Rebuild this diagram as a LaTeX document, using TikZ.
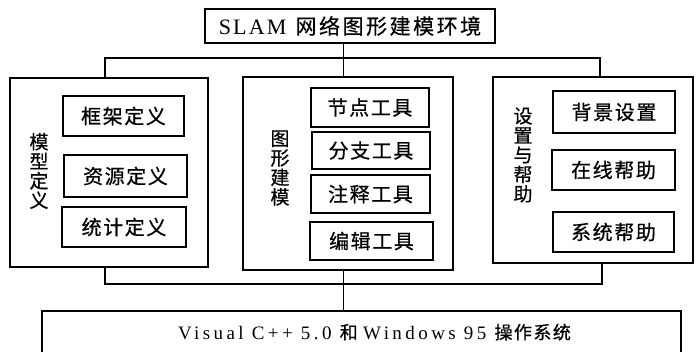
\documentclass[tikz,border=0pt]{standalone}
\usepackage{fontspec}
\setmainfont{Liberation Serif}
\newfontfamily\cjk[LetterSpace=8,FakeBold=0.6]{Noto Sans CJK SC}
\newfontfamily\cjktop[LetterSpace=12,FakeBold=0.4]{Noto Sans CJK SC}
\newfontfamily\latsp[LetterSpace=10]{Liberation Serif}
\newfontfamily\latbot[LetterSpace=18]{Liberation Serif}
\begin{document}
\begin{tikzpicture}[x=1pt,y=-1pt,
  outerbox/.style={draw,line width=2.2pt,inner sep=0pt,outer sep=0pt},
  innerbox/.style={draw,line width=2pt,inner sep=0pt,outer sep=0pt,font=\fontsize{20}{20}\selectfont\cjk},
  vlabel/.style={align=center,inner sep=0pt,font=\fontsize{19}{19.5}\selectfont\cjk},
  conn/.style={line width=1pt},
  hconn/.style={line width=1.6pt}]
\useasboundingbox (0,0) rectangle (700,351);
\clip (0,0) rectangle (700,351);
% top
\node[outerbox,minimum width=290pt,minimum height=34pt,line width=2pt] (top) at (350,26)
  {\fontsize{22}{22}\selectfont\latsp SLAM\hspace{9pt}\fontsize{21}{21}\selectfont\cjktop 网络图形建模环境};
% group boxes
\node[outerbox,minimum width=198pt,minimum height=189pt] (L) at (109,172.5) {};
\node[outerbox,minimum width=210pt,minimum height=193pt] (M) at (348,173.5) {};
\node[outerbox,minimum width=200pt,minimum height=186pt] (R) at (593,170) {};
% left inner
\node[innerbox,minimum width=121pt,minimum height=40pt] (kj) at (123.5,116) {框架定义};
\node[innerbox,minimum width=123pt,minimum height=42pt] (zy) at (125.5,176) {资源定义};
\node[innerbox,minimum width=124pt,minimum height=40pt] (tj) at (124,227) {统计定义};
\node[vlabel] (lL) at (39,171) {模\\型\\定\\义};
% middle inner
\node[innerbox,minimum width=118pt,minimum height=39pt] (jd) at (370,107.5) {节点工具};
\node[innerbox,minimum width=118pt,minimum height=37pt] (fz) at (371,150.5) {分支工具};
\node[innerbox,minimum width=119pt,minimum height=38pt] (zs) at (370.5,194) {注释工具};
\node[innerbox,minimum width=123pt,minimum height=38pt] (bj) at (371.5,241) {编辑工具};
\node[vlabel] (lM) at (280,168) {图\\形\\建\\模};
% right inner
\node[innerbox,minimum width=122pt,minimum height=42pt] (bg) at (614,112) {背景设置};
\node[innerbox,minimum width=123pt,minimum height=40pt] (zx) at (613.5,170) {在线帮助};
\node[innerbox,minimum width=121pt,minimum height=40pt] (xt) at (613.5,232) {系统帮助};
\node[vlabel] (lR) at (523,155) {设\\置\\与\\帮\\助};
% bottom box
\node[outerbox,anchor=north,minimum width=639pt,text height=28pt,text depth=25pt,inner sep=0pt] (os) at (361.5,311)
  {\hspace*{26pt}\fontsize{19}{19}\selectfont\latbot Visual C++ 5.0 \fontsize{18}{18}\selectfont\cjk 和 \fontsize{19}{19}\selectfont\latbot Windows 95 \fontsize{18}{18}\selectfont\cjk 操作系统};
% connectors
\coordinate (jt) at (343,58);
\coordinate (jb) at (343,284);
\draw[conn] (top.south -| jt) -- (jt);
\draw[hconn] ([xshift=-4pt]L.north) |- (jt) -| ([xshift=7pt]R.north);
\draw[conn] (jt) -- (M.north -| jt);
\draw[hconn] ([xshift=-4pt]L.south) |- (jb) -| ([xshift=9pt]R.south);
\draw[conn] (M.south -| jb) -- (jb);
\draw[conn] (jb) -- (os.north -| jb);
\end{tikzpicture}
\end{document}
